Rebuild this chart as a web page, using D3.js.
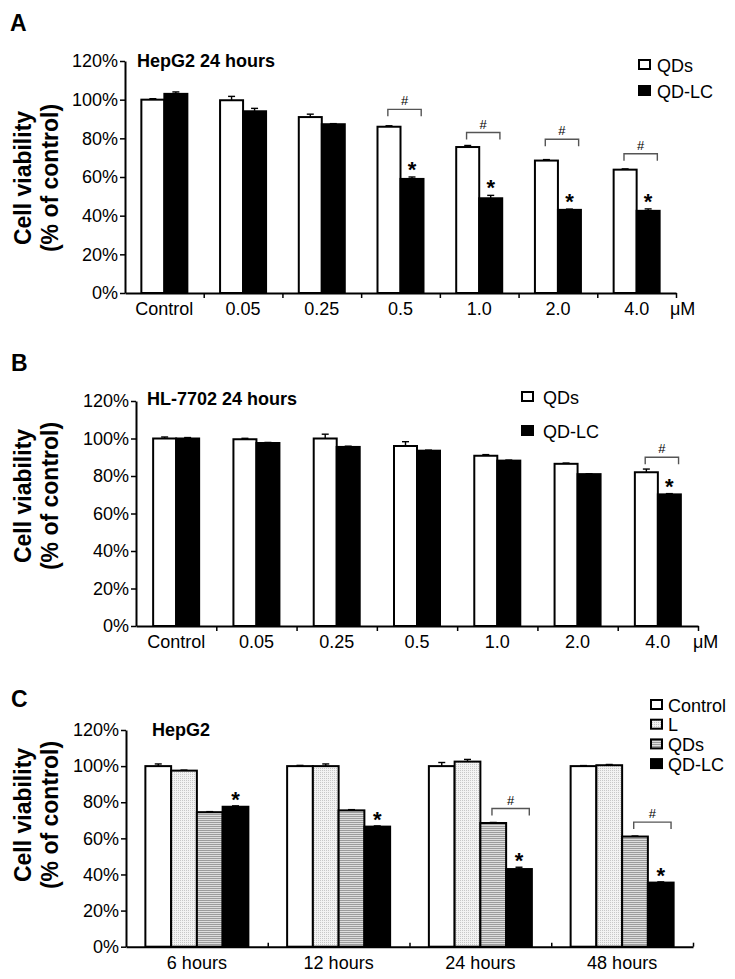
<!DOCTYPE html>
<html><head><meta charset="utf-8">
<script src="https://cdn.jsdelivr.net/npm/d3@7"></script>
<style>
body{margin:0;background:#fff}
svg{display:block}
text{font-family:"Liberation Sans",Arial,Helvetica,sans-serif;fill:#000}
</style>
</head><body>
<svg id="fig" width="735" height="979"></svg>
<script>
// ---------- DATA ----------
const yTicks = [0, 20, 40, 60, 80, 100, 120];

// Panel A: HepG2 24 hours
const categoriesA = ["Control", "0.05", "0.25", "0.5", "1.0", "2.0", "4.0"];
const qdsA      = [100, 99.7, 91, 86, 75.5, 68.5, 63.8];
const qdsErrA   = [0.5, 2, 1.5, 0.5, 0.8, 0.5, 0.4];
const qdlcA     = [103, 94, 87.3, 59, 49, 43, 42.5];
const qdlcErrA  = [1, 1.5, 0.3, 1, 1.5, 0.4, 1];
const starsA    = ["0.5", "1.0", "2.0", "4.0"];
const bracketsA = [["0.5", 95], ["1.0", 83], ["2.0", 79.5], ["4.0", 72]];

// Panel B: HL-7702 24 hours
const categoriesB = ["Control", "0.05", "0.25", "0.5", "1.0", "2.0", "4.0"];
const qdsB      = [100, 99.6, 100, 96, 90.8, 86.5, 82];
const qdsErrB   = [0.8, 0.5, 2.3, 2.3, 0.6, 0.4, 1.7];
const qdlcB     = [100, 97.6, 95.5, 93.5, 88.2, 81, 70.2];
const qdlcErrB  = [0.5, 0.3, 0.4, 0.3, 0.3, 0.2, 0.4];
const starsB    = ["4.0"];
const bracketsB = [["4.0", 90]];

// Panel C: HepG2 time course
const categoriesC = ["6 hours", "12 hours", "24 hours", "48 hours"];
const controlC    = [100, 100, 100, 100];
const controlErrC = [1.2, 0.4, 2, 0.3];
const lC          = [97.5, 100, 102.5, 100.5];
const lErrC       = [0.3, 1.2, 1.2, 0.4];
const qdsC        = [74.5, 75.5, 68.5, 61];
const qdsErrC     = [0.3, 0.4, 0.3, 0.3];
const qdlcC       = [77.5, 66.5, 43, 35.5];
const qdlcErrC    = [0.5, 0.4, 1, 0.4];
const starsC      = ["6 hours", "12 hours", "24 hours", "48 hours"];
const bracketsC   = [["24 hours", 76.5], ["48 hours", 69]];

// ---------- DRAWING ----------
const svg = d3.select("#fig");
const defs = svg.append("defs");
const pL = defs.append("pattern").attr("id", "patL").attr("patternUnits", "userSpaceOnUse")
  .attr("width", 2).attr("height", 2);
pL.append("rect").attr("width", 2).attr("height", 2).attr("fill", "#f3f3f3");
pL.append("rect").attr("width", 1).attr("height", 1).attr("fill", "#c8c8c8");
const pQ = defs.append("pattern").attr("id", "patQ").attr("patternUnits", "userSpaceOnUse")
  .attr("width", 4).attr("height", 2);
pQ.append("rect").attr("width", 4).attr("height", 2).attr("fill", "#dedede");
pQ.append("rect").attr("width", 4).attr("height", 1).attr("fill", "#9c9c9c");

const FONT = '"Liberation Sans",Arial,Helvetica,sans-serif';

function panel(o) {
  const g = svg.append("g");
  const x = d3.scaleBand().domain(o.cats).range([o.x0, o.x1]).padding(0);
  const xs = d3.scaleBand().domain(o.series.map(s => s.name)).range([-o.groupW / 2, o.groupW / 2]);
  const y = d3.scaleLinear().domain([0, 120]).range([o.y0, o.y120]);
  const bw = xs.bandwidth();
  const bx = (cat, name) => x(cat) + x.bandwidth() / 2 + xs(name);

  // bars
  o.series.forEach(s => {
    g.append("g").selectAll("rect").data(o.cats).join("rect")
      .attr("x", c => bx(c, s.name))
      .attr("y", (c, i) => y(s.values[i]))
      .attr("width", bw)
      .attr("height", (c, i) => y(0) - y(s.values[i]))
      .attr("fill", s.fill).attr("stroke", "#000").attr("stroke-width", 2);
    // error bars (upper)
    const eg = g.append("g").attr("stroke", "#000").attr("stroke-width", 1.4);
    o.cats.forEach((c, i) => {
      const cx = bx(c, s.name) + bw / 2;
      const yt = y(s.values[i] + s.err[i]);
      eg.append("line").attr("x1", cx).attr("x2", cx).attr("y1", y(s.values[i])).attr("y2", yt);
      eg.append("line").attr("x1", cx - 3.5).attr("x2", cx + 3.5).attr("y1", yt).attr("y2", yt);
    });
  });

  // stars above last series
  const last = o.series[o.series.length - 1];
  o.stars.forEach(c => {
    const i = o.cats.indexOf(c);
    g.append("text").attr("x", bx(c, last.name) + bw / 2)
      .attr("y", y(last.values[i] + last.err[i]) + 1 - o.starGap)
      .attr("text-anchor", "middle").style("font-size", "22px").style("font-weight", "bold").text("*");
  });

  // brackets between the two last compared series
  const s1 = o.series[o.series.length - 2];
  o.brackets.forEach(([c, lev]) => {
    const xa = bx(c, s1.name) + 0.45 * bw;
    const xb = bx(c, last.name) + 0.9 * bw;
    const yb = y(lev);
    g.append("path").attr("d", `M${xa},${yb + 7}V${yb}H${xb}V${yb + 7}`)
      .attr("fill", "none").attr("stroke", "#555").attr("stroke-width", 1.4);
    g.append("text").attr("x", (xa + xb) / 2).attr("y", yb - 4)
      .attr("text-anchor", "middle").style("font-size", "13px").text("#");
  });

  // y axis
  const ya = g.append("g").attr("transform", `translate(${o.x0},0)`)
    .call(d3.axisLeft(y).tickValues(yTicks).tickFormat(d => d + "%").tickSize(5).tickSizeOuter(0).tickPadding(2));
  ya.select(".domain").attr("stroke-width", 2);
  ya.selectAll(".tick line").attr("stroke-width", 1.5);
  ya.selectAll("text").style("font-size", "18px").style("font-family", FONT);

  // x axis line with boundary ticks
  const xb = d3.scaleLinear().domain([0, o.cats.length]).range([o.x0, o.x1]);
  const xa = g.append("g").attr("transform", `translate(0,${o.y0})`)
    .call(d3.axisBottom(xb).tickValues(d3.range(1, o.cats.length + 1)).tickFormat("")
      .tickSize(o.tickUp ? -4 : 5).tickSizeOuter(0));
  xa.select(".domain").attr("stroke-width", 2);
  xa.selectAll(".tick line").attr("stroke-width", 1.5);

  // x labels
  const xl = g.append("g").attr("transform", `translate(0,${o.y0})`)
    .call(d3.axisBottom(x).tickSize(0).tickPadding(o.labelPad));
  xl.select(".domain").remove();
  xl.selectAll("text").style("font-size", "18px").style("font-family", FONT);

  if (o.unit) {
    g.append("text").attr("x", o.unit[0]).attr("y", o.unit[1]).style("font-size", "18px").text("μM");
  }

  // panel letter and title
  g.append("text").attr("x", o.letterPos[0]).attr("y", o.letterPos[1])
    .style("font-size", "23px").style("font-weight", "bold").text(o.letter);
  g.append("text").attr("x", o.titlePos[0]).attr("y", o.titlePos[1])
    .style("font-size", "18px").style("font-weight", "bold").text(o.title);

  // y title
  const yt = g.append("text").attr("transform", `translate(0,${o.yTitleY}) rotate(-90)`)
    .attr("text-anchor", "middle").style("font-size", "23px").style("font-weight", "bold");
  yt.append("tspan").attr("x", 0).attr("y", 31).text("Cell viability");
  yt.append("tspan").attr("x", 0).attr("y", 58).text("(% of control)");

  // legend
  const lg = g.append("g");
  o.series.forEach((s, i) => {
    const cy = o.legend.y + i * o.legend.dy;
    lg.append("rect").attr("x", o.legend.x).attr("y", cy - 5).attr("width", 11).attr("height", 9)
      .attr("fill", s.fill).attr("stroke", "#000").attr("stroke-width", 2);
    lg.append("text").attr("x", o.legend.x + o.legend.tx).attr("y", cy + 6.5)
      .style("font-size", "18px").text(s.name);
  });
}

panel({
  cats: categoriesA, x0: 125, x1: 676, y0: 293, y120: 61, groupW: 46,
  series: [
    { name: "QDs", values: qdsA, err: qdsErrA, fill: "#fff" },
    { name: "QD-LC", values: qdlcA, err: qdlcErrA, fill: "#000" }
  ],
  stars: starsA, brackets: bracketsA, starGap: 1,
  tickUp: false, labelPad: 9, unit: [670, 315],
  letter: "A", letterPos: [10, 31], title: "HepG2 24 hours", titlePos: [137, 67],
  yTitleY: 178, legend: { x: 639, y: 65, dy: 26, tx: 18 }
});

panel({
  cats: categoriesB, x0: 136, x1: 698, y0: 626, y120: 401, groupW: 46,
  series: [
    { name: "QDs", values: qdsB, err: qdsErrB, fill: "#fff" },
    { name: "QD-LC", values: qdlcB, err: qdlcErrB, fill: "#000" }
  ],
  stars: starsB, brackets: bracketsB, starGap: 1,
  tickUp: false, labelPad: 9, unit: [693, 648],
  letter: "B", letterPos: [11, 371], title: "HL-7702 24 hours", titlePos: [147, 405],
  yTitleY: 496, legend: { x: 522, y: 397, dy: 34, tx: 21 }
});

panel({
  cats: categoriesC, x0: 126, x1: 693, y0: 946.7, y120: 730, groupW: 103,
  series: [
    { name: "Control", values: controlC, err: controlErrC, fill: "#fff" },
    { name: "L", values: lC, err: lErrC, fill: "url(#patL)" },
    { name: "QDs", values: qdsC, err: qdsErrC, fill: "url(#patQ)" },
    { name: "QD-LC", values: qdlcC, err: qdlcErrC, fill: "#000" }
  ],
  stars: starsC, brackets: bracketsC, starGap: 0,
  tickUp: true, labelPad: 9.5, unit: null,
  letter: "C", letterPos: [11, 707], title: "HepG2", titlePos: [152, 736],
  yTitleY: 815, legend: { x: 651, y: 705, dy: 19.7, tx: 17 }
});
</script>
</body></html>
